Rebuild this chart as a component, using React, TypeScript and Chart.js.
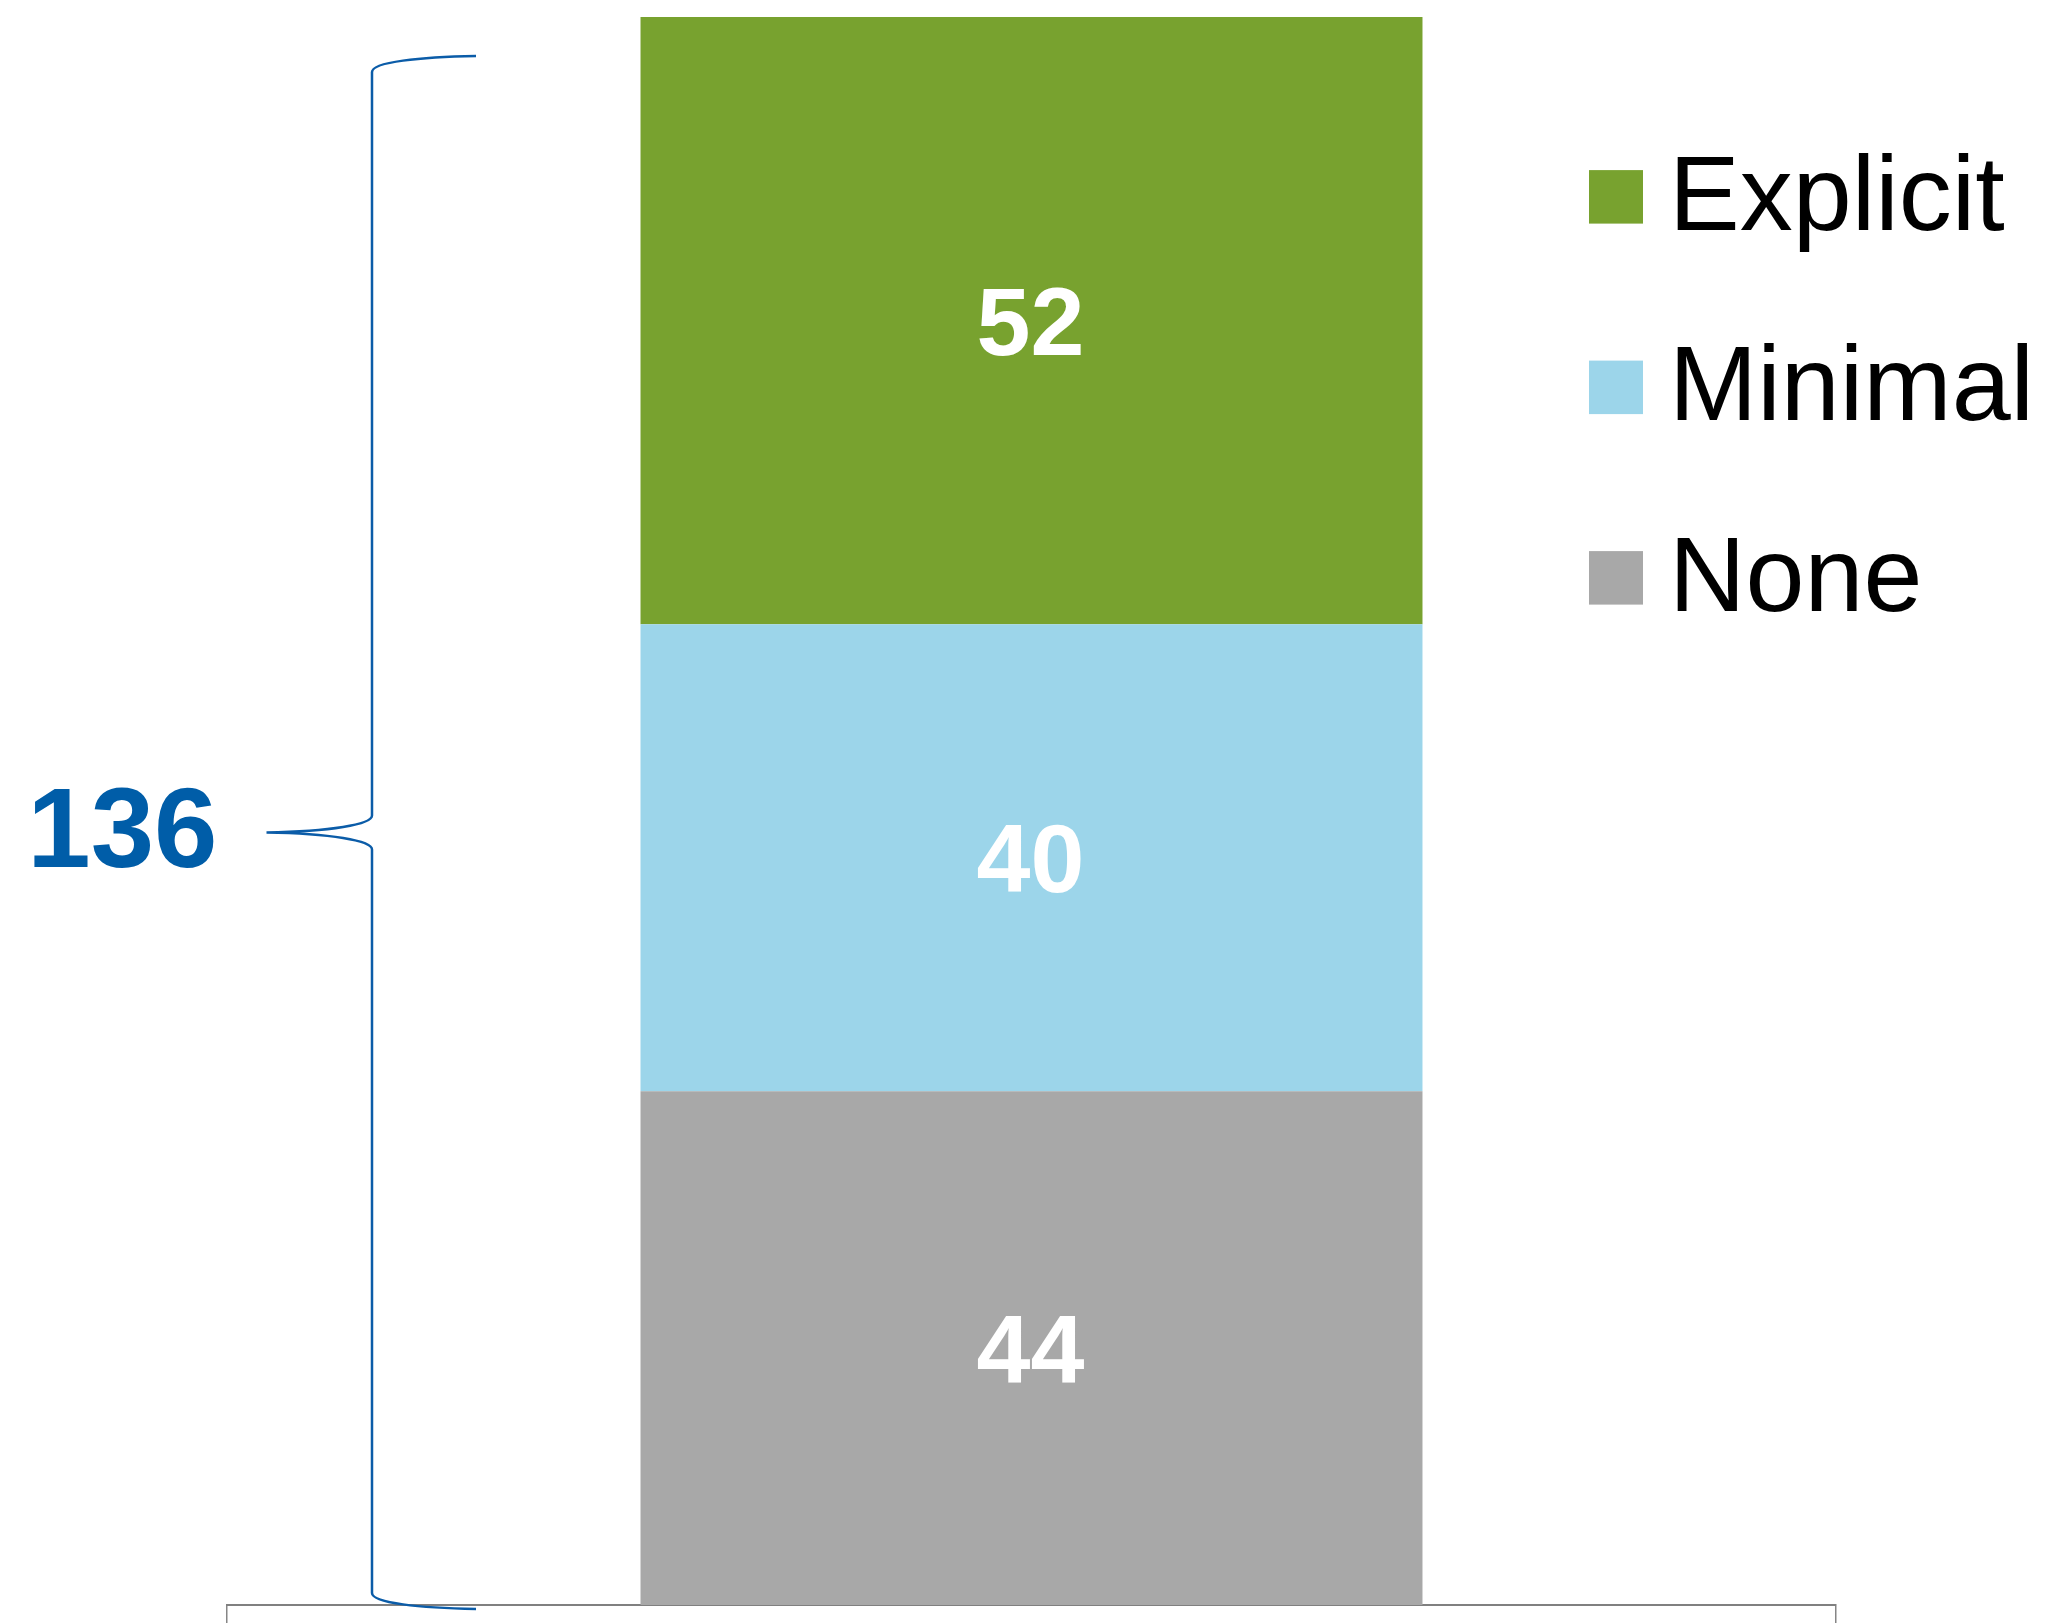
import React, { useEffect, useRef } from "react";
import { Chart, registerables } from "chart.js";

Chart.register(...registerables);

const categories = ["All"];
const seriesNames = ["None", "Minimal", "Explicit"];
const noneValues = [44];
const minimalValues = [40];
const explicitValues = [52];
const seriesColors = ["#A8A8A8", "#9CD5EA", "#78A22F"];
const yMax = 136;

const FONT = "'Liberation Sans', Arial, sans-serif";

const overlayPlugin = {
  id: "overlay",
  afterDatasetsDraw(chart: any) {
    const ctx = chart.ctx;
    const area = chart.chartArea;
    // data labels
    chart.data.datasets.forEach((ds: any, di: number) => {
      const meta = chart.getDatasetMeta(di);
      meta.data.forEach((bar: any, i: number) => {
        const v = ds.data[i];
        const cy = (bar.y + bar.base) / 2;
        ctx.save();
        ctx.fillStyle = "#FFFFFF";
        ctx.font = `bold 97px ${FONT}`;
        ctx.textAlign = "center";
        ctx.textBaseline = "alphabetic";
        ctx.fillText(String(v), bar.x - 1, cy + 0.358 * 97);
        ctx.restore();
      });
    });

    // bracket
    const xV = area.left + 145;
    const xEnd = area.left + 249;
    const xTip = area.left + 39.5;
    const yTop = area.top + 39;
    const yBot = area.bottom + 4;
    const yMid = (yTop + yBot) / 2;
    ctx.save();
    ctx.strokeStyle = "#0B5CA8";
    ctx.lineWidth = 2.5;
    ctx.beginPath();
    ctx.moveTo(xEnd, yTop);
    ctx.bezierCurveTo(xEnd - 56, yTop + 1, xV, yTop + 6, xV, yTop + 16);
    ctx.lineTo(xV, yMid - 17);
    ctx.bezierCurveTo(xV, yMid - 8, xV - 42, yMid - 1, xTip, yMid);
    ctx.moveTo(xTip, yMid);
    ctx.bezierCurveTo(xV - 42, yMid + 1, xV, yMid + 8, xV, yMid + 17);
    ctx.lineTo(xV, yBot - 16);
    ctx.bezierCurveTo(xV, yBot - 6, xEnd - 56, yBot - 1, xEnd, yBot);
    ctx.stroke();

    const total = chart.data.datasets.reduce((s: number, ds: any) => s + ds.data[0], 0);
    ctx.fillStyle = "#005DA8";
    ctx.font = `bold 114px ${FONT}`;
    ctx.textAlign = "right";
    ctx.textBaseline = "alphabetic";
    ctx.fillText(String(total), xTip - 49, yMid + 34);
    ctx.restore();

    // legend (reverse order: top series first)
    const items = chart.data.datasets.map((ds: any) => ({ label: ds.label, color: ds.backgroundColor })).reverse();
    ctx.save();
    items.forEach((it: any, i: number) => {
      const baseline = 229.6 + i * 190.5;
      ctx.fillStyle = it.color;
      ctx.fillRect(1589, baseline - 59.5, 54, 53.5);
      ctx.fillStyle = "#000000";
      ctx.font = `106px ${FONT}`;
      ctx.textAlign = "left";
      ctx.textBaseline = "alphabetic";
      ctx.fillText(it.label, 1669, baseline);
    });
    ctx.restore();
  },
};

export default function App() {
  const ref = useRef<HTMLCanvasElement | null>(null);
  useEffect(() => {
    if (!ref.current) return;
    const valuesList = [noneValues, minimalValues, explicitValues];
    const chart = new Chart(ref.current, {
      type: "bar",
      data: {
        labels: categories,
        datasets: seriesNames.map((name, i) => ({
          label: name,
          data: valuesList[i],
          backgroundColor: seriesColors[i],
          borderWidth: 0,
          barPercentage: 0.486,
          categoryPercentage: 1,
        })),
      },
      options: {
        responsive: false,
        animation: false,
        devicePixelRatio: 1,
        layout: { padding: { left: 227, right: 213, top: 17, bottom: 0 } },
        plugins: {
          legend: { display: false },
          tooltip: { enabled: false },
        },
        scales: {
          x: {
            stacked: true,
            display: true,
            ticks: { display: false },
            grid: {
              display: true,
              drawOnChartArea: false,
              drawTicks: true,
              tickLength: 18,
              color: "#868686",
              lineWidth: 1.5,
            },
            border: { display: true, color: "#808080", width: 2 },
          },
          y: {
            stacked: true,
            display: false,
            min: 0,
            max: yMax,
          },
        },
      },
      plugins: [overlayPlugin],
    });
    return () => chart.destroy();
  }, []);
  return (
    <div style={{ position: "absolute", left: 0, top: 0, width: 2049, height: 1623, background: "#FFFFFF" }}>
      <canvas ref={ref} width={2049} height={1623} style={{ width: 2049, height: 1623, display: "block" }} />
    </div>
  );
}
